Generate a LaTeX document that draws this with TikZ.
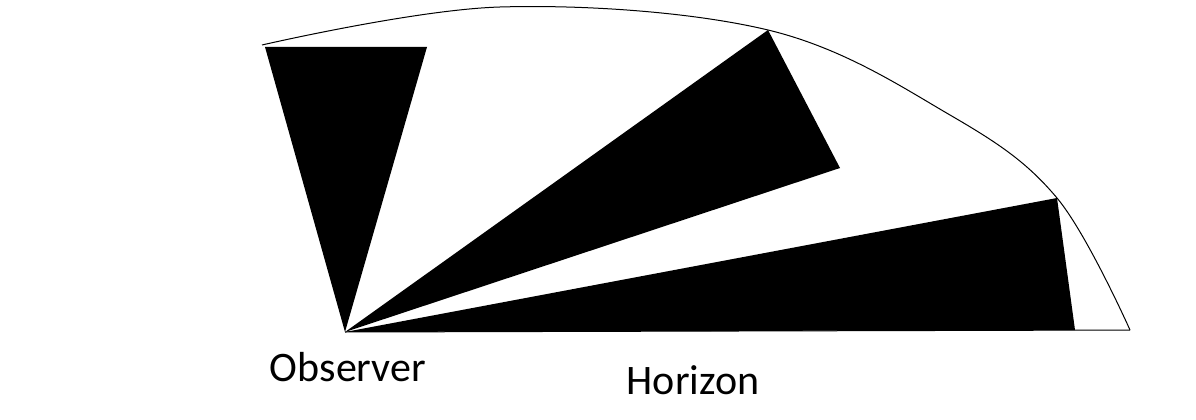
\documentclass[tikz,border=0pt]{standalone}
\usepackage{fontspec}
\setmainfont{Carlito}
\begin{document}
\begin{tikzpicture}[x=1pt,y=-1pt,lbl/.style={font=\fontsize{42}{50}\selectfont,inner sep=0pt}]
\useasboundingbox (0,0) rectangle (1196,420);
\coordinate (O) at (345,332);
\fill (O) -- (265,47) -- (427,47) -- cycle;
\fill (O) -- (768,30) -- (840,168) -- cycle;
\fill (O) -- (1057,198) -- (1075,330) -- cycle;
\draw[line width=1pt] plot[smooth,tension=0.6] coordinates {(262,45) (500,7) (768,30) (950,115) (1057,198) (1130,330)};
\coordinate (E) at (1130,330);
\draw[line width=1pt] (O) -- (E);
\node[lbl] (obs) at (348,367) {Observer};
\node[lbl] (hor) at (693,380) {Horizon};
\end{tikzpicture}
\end{document}
